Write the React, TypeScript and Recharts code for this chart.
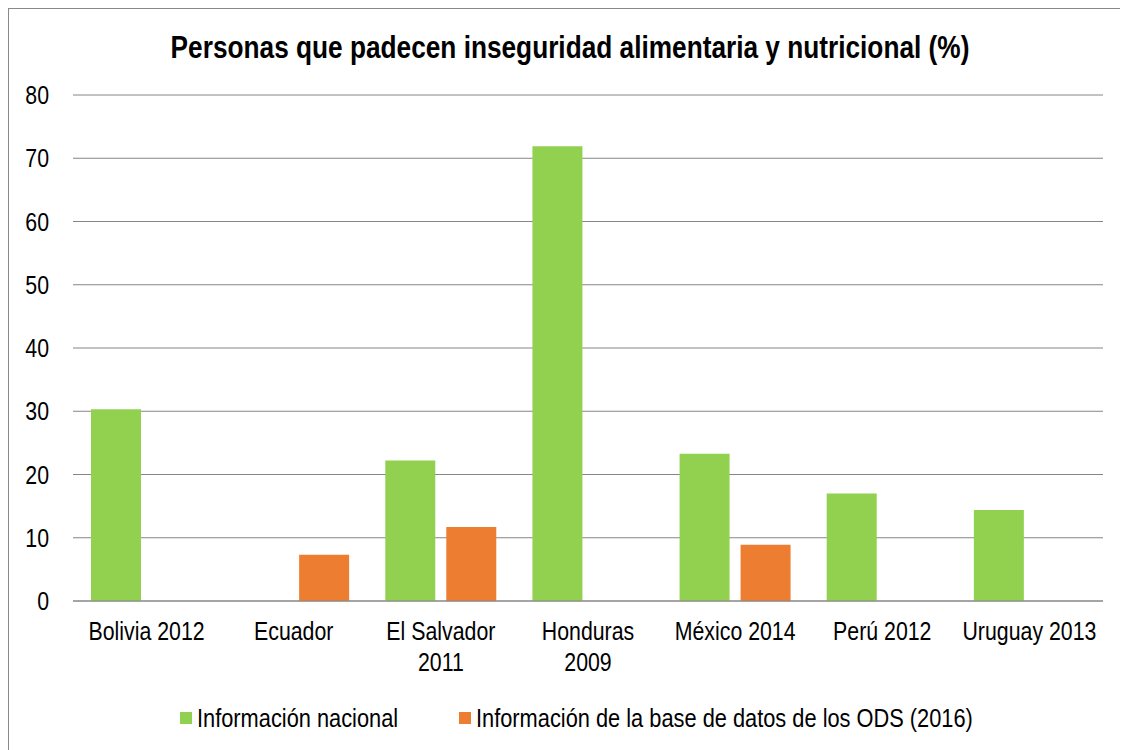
import React from 'react'
import { BarChart, Bar, XAxis, YAxis, CartesianGrid, Legend } from 'recharts'

const categories = ['Bolivia 2012', 'Ecuador', 'El Salvador 2011', 'Honduras 2009', 'México 2014', 'Perú 2012', 'Uruguay 2013']
const tickLabels = [['Bolivia 2012'], ['Ecuador'], ['El Salvador', '2011'], ['Honduras', '2009'], ['México 2014'], ['Perú 2012'], ['Uruguay 2013']]
const nacional = [30.3, null, 22.2, 71.9, 23.3, 17.0, 14.4]
const ods = [null, 7.3, 11.7, null, 8.9, null, null]
const yTicks = [0, 10, 20, 30, 40, 50, 60, 70, 80]

const seriesNames = ['Información nacional', 'Información de la base de datos de los ODS (2016)']
const GREEN = '#92D050'
const ORANGE = '#ED7D31'
// no Arial Narrow here, so squeeze Liberation Sans horizontally
const FONT = '"Liberation Sans", Arial, sans-serif'
const NARROW = 0.82

const data = categories.map((name, i) => ({ name, nacional: nacional[i], ods: ods[i] }))

function NarrowText({ x, y, anchor, size = 26, weight = 'normal', children }: any) {
  return (
    <text transform={`translate(${x},${y}) scale(${NARROW},1)`} x={0} y={0} textAnchor={anchor} fill="#000" fontSize={size} fontWeight={weight} fontFamily={FONT}>
      {children}
    </text>
  )
}

function CategoryTick({ x, y, index }: any) {
  const lines = tickLabels[index] || []
  return (
    <g>
      {lines.map((l, i) => (
        <NarrowText key={i} x={x} y={y + 31 + i * 31} anchor="middle">{l}</NarrowText>
      ))}
    </g>
  )
}

function ValueTick({ x, y, payload }: any) {
  return <NarrowText x={x + 1} y={y + 9} anchor="end">{payload.value}</NarrowText>
}

function LegendBox() {
  const items = [
    { label: seriesNames[0], color: GREEN, x: 171 },
    { label: seriesNames[1], color: ORANGE, x: 450 },
  ]
  return (
    <svg width={1118} height={59} style={{ display: 'block' }}>
      {items.map((it) => (
        <g key={it.label}>
          <rect x={it.x} y={21} width={12} height={12} fill={it.color} />
          <NarrowText x={it.x + 17} y={36} anchor="start" size={26.6}>{it.label}</NarrowText>
        </g>
      ))}
    </svg>
  )
}

export default function App() {
  return (
    <div style={{ position: 'relative', width: 1118, height: 742, border: '1px solid #898989', background: '#fff' }}>
      <svg style={{ position: 'absolute', top: 0, left: 0 }} width={1118} height={80}>
        <NarrowText x={561} y={49} anchor="middle" size={32} weight="bold">
          Personas que padecen inseguridad alimentaria y nutricional (%)
        </NarrowText>
      </svg>
      <BarChart width={1118} height={742} data={data} margin={{ top: 86, right: 24, left: 0, bottom: 1 }} barCategoryGap={18} barGap={11}>
        <CartesianGrid vertical={false} stroke="#868686" />
        <XAxis dataKey="name" axisLine={{ stroke: '#868686' }} tickLine={false} height={90} tick={<CategoryTick />} interval={0} />
        <YAxis domain={[0, 80]} ticks={yTicks} axisLine={false} tickLine={false} width={64} tickMargin={19} tick={<ValueTick />} />
        <Legend verticalAlign="bottom" content={<LegendBox />} />
        <Bar dataKey="nacional" name={seriesNames[0]} fill={GREEN} isAnimationActive={false} />
        <Bar dataKey="ods" name={seriesNames[1]} fill={ORANGE} isAnimationActive={false} />
      </BarChart>
    </div>
  )
}
